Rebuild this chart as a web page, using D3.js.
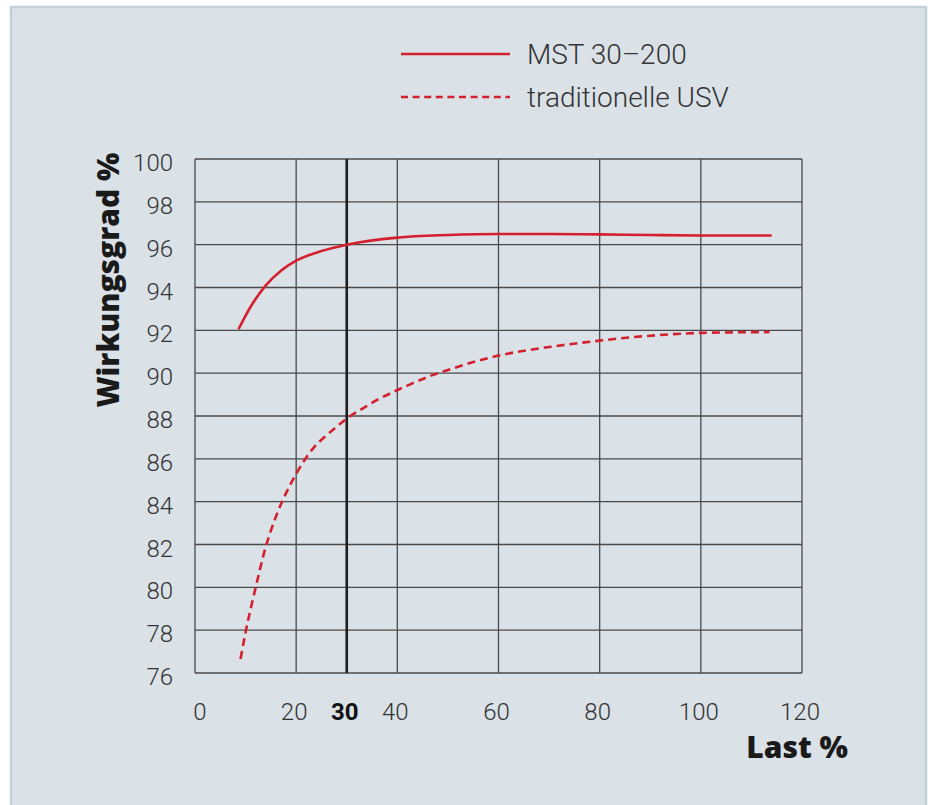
<!DOCTYPE html>
<html><head><meta charset="utf-8">
<script src="https://cdn.jsdelivr.net/npm/d3@7"></script>
<style>
html,body{margin:0;padding:0;background:#fff;}
svg{display:block;}
</style></head>
<body>
<svg id="c" width="930" height="805"></svg>
<script>
const seriesNames = ["MST 30–200", "traditionelle USV"];
const mstLoad = [8.6, 11, 14, 17, 20, 25, 30, 40, 50, 60, 70, 80, 90, 100, 114];
const mstEff  = [92.05, 93.1, 94.1, 94.78, 95.25, 95.7, 96.0, 96.33, 96.45, 96.5, 96.5, 96.48, 96.45, 96.43, 96.43];
const usvLoad = [9, 10, 12, 14, 16, 18, 20, 23.4, 26, 28, 30.3, 33.3, 36, 39, 42, 46.5, 50, 60, 70, 80, 90, 100, 113.6];
const usvEff  = [76.65, 77.9, 80.0, 81.9, 83.3, 84.4, 85.3, 86.5, 87.1, 87.5, 87.93, 88.37, 88.75, 89.1, 89.42, 89.87, 90.15, 90.82, 91.22, 91.52, 91.75, 91.88, 91.92];
const xTicks = [0, 20, 30, 40, 60, 80, 100, 120];
const yTicks = [76, 78, 80, 82, 84, 86, 88, 90, 92, 94, 96, 98, 100];
const xTitle = "Last %";
const yTitle = "Wirkungsgrad %";
const highlightX = 30;

const svg = d3.select("#c");
const red = "#d4202e";
const font = "Roboto, 'Noto Sans', sans-serif";
const boldFont = "'Open Sans', Roboto, sans-serif";

// frame
svg.append("rect").attr("x", 11).attr("y", 7).attr("width", 915).attr("height", 810)
  .attr("fill", "#dae1e7").attr("stroke", "#c2d1d8").attr("stroke-width", 2.5);

const L = 195, T = 159, W = 607, H = 514;
const x = d3.scaleLinear().domain([0, 120]).range([L, L + W]);
const y = d3.scaleLinear().domain([76, 100]).range([T + H, T]);

const g = svg.append("g");
g.selectAll("line.h").data(yTicks).join("line")
  .attr("x1", L).attr("x2", L + W).attr("y1", d => y(d)).attr("y2", d => y(d))
  .attr("stroke", "#4a4a4a").attr("stroke-width", 1.3);
g.selectAll("line.v").data(xTicks.filter(d => d !== highlightX)).join("line")
  .attr("y1", T).attr("y2", T + H).attr("x1", d => x(d)).attr("x2", d => x(d))
  .attr("stroke", "#4a4a4a").attr("stroke-width", 1.3);
g.append("line").attr("y1", T).attr("y2", T + H).attr("x1", x(highlightX)).attr("x2", x(highlightX))
  .attr("stroke", "#1e1e1e").attr("stroke-width", 2.6);

// y tick labels
svg.selectAll("text.yt").data(yTicks).join("text")
  .attr("x", 173).attr("y", d => y(d) + 12)
  .attr("text-anchor", "end").attr("font-family", font).attr("font-weight", 300)
  .attr("font-size", 24).attr("fill", "#333").text(d => d);

// x tick labels
svg.selectAll("text.xt").data(xTicks).join("text")
  .attr("x", d => x(d) + (d === 0 ? 5 : -2)).attr("y", 720)
  .attr("text-anchor", "middle").attr("font-family", font)
  .attr("font-weight", d => d === highlightX ? 700 : 300)
  .attr("font-size", 24).attr("fill", d => d === highlightX ? "#111" : "#333").text(d => d);

// axis titles
svg.append("text").attr("x", 848).attr("y", 758).attr("text-anchor", "end")
  .attr("font-family", boldFont).attr("font-weight", 800).attr("font-size", 30).attr("fill", "#1a1a1a").text(xTitle);
svg.append("text").attr("transform", "translate(119,280) rotate(-90)").attr("text-anchor", "middle")
  .attr("font-family", boldFont).attr("font-weight", 800).attr("font-size", 30).attr("fill", "#1a1a1a").text(yTitle);

// lines
const line = d3.line().x(d => x(d[0])).y(d => y(d[1])).curve(d3.curveMonotoneX);
svg.append("path").datum(mstLoad.map((v, i) => [v, mstEff[i]]))
  .attr("d", line).attr("fill", "none").attr("stroke", red).attr("stroke-width", 2.6);
svg.append("path").datum(usvLoad.map((v, i) => [v, usvEff[i]]))
  .attr("d", line).attr("fill", "none").attr("stroke", red).attr("stroke-width", 2.6)
  .attr("stroke-dasharray", "8,5");

// legend
const leg = [{name: seriesNames[0], dash: null, y: 54}, {name: seriesNames[1], dash: "7,4.6", y: 97}];
const lg = svg.selectAll("g.leg").data(leg).join("g");
lg.append("line").attr("x1", 401).attr("x2", 510).attr("y1", d => d.y).attr("y2", d => d.y)
  .attr("stroke", red).attr("stroke-width", 2.6).attr("stroke-dasharray", d => d.dash);
lg.append("text").attr("x", 527).attr("y", d => d.y + 10).attr("font-family", font).attr("font-weight", 300)
  .attr("font-size", 28).attr("fill", "#333").text(d => d.name);
</script>
</body></html>
